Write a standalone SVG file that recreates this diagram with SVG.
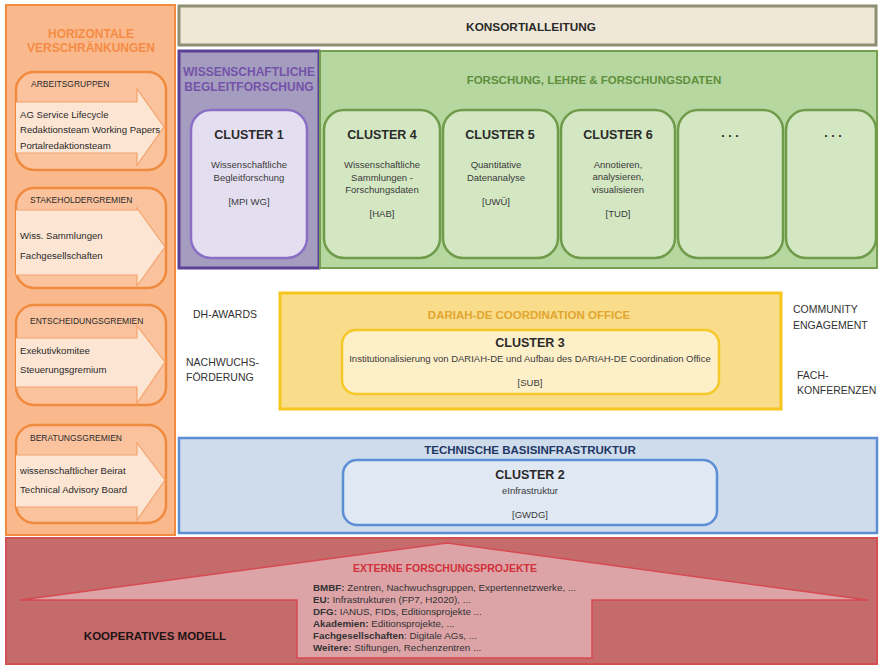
<svg xmlns="http://www.w3.org/2000/svg" width="880" height="665" viewBox="0 0 880 665">
<style>
text{font-family:"Liberation Sans",Arial,sans-serif;fill:#2a2a2a}
.b{font-weight:bold}
.hz{font-size:12px;font-weight:bold;fill:#f58c46}
.gh{font-size:8.5px}
.gt{font-size:9.6px}
.ab{fill:#fac39e;stroke:#f08a3e;stroke-width:2.5}
.ar{fill:#fde5d3;stroke:#f4a46e;stroke-width:1.2}
.cl{font-size:12.5px;font-weight:bold}
.ct{font-size:9.5px;fill:#3a3a3a}
.gc{fill:#d3e7c3;stroke:#6f9b4a;stroke-width:2.5}
.side{font-size:10.5px;fill:#333}
.sec{font-size:11.5px;font-weight:bold}
.lst{font-size:9.8px;fill:#333}
</style>
<rect width="880" height="665" fill="#ffffff"/>

<g id="horizontale">
<rect x="6" y="5" width="169" height="530" fill="#f9b98c" stroke="#f28b3e" stroke-width="2"/>
<text class="hz" x="91" y="38" text-anchor="middle">HORIZONTALE</text>
<text class="hz" x="91" y="52" text-anchor="middle">VERSCHRÄNKUNGEN</text>
</g>

<g id="arbeitsgruppen">
<rect class="ab" x="16" y="72" width="150" height="98" rx="18"/>
<path class="ar" d="M16,102 H137 V89 L164,127 L137,165 V153 H16"/>
<text class="gh" x="31" y="87">ARBEITSGRUPPEN</text>
<text class="gt" x="20" y="118">AG Service Lifecycle</text>
<text class="gt" x="20" y="133">Redaktionsteam Working Papers</text>
<text class="gt" x="20" y="149">Portalredaktionsteam</text>
</g>

<g id="stakeholdergremien">
<rect class="ab" x="16" y="188" width="150" height="100" rx="18"/>
<path class="ar" d="M16,210 H137 V208 L165,247 L137,286 V275 H16"/>
<text class="gh" x="30" y="203">STAKEHOLDERGREMIEN</text>
<text class="gt" x="20" y="239">Wiss. Sammlungen</text>
<text class="gt" x="20" y="259">Fachgesellschaften</text>
</g>

<g id="entscheidungsgremien">
<rect class="ab" x="16" y="305" width="150" height="100" rx="18"/>
<path class="ar" d="M16,338 H137 V326 L165,362 L137,403 V387 H16"/>
<text class="gh" x="30" y="324">ENTSCHEIDUNGSGREMIEN</text>
<text class="gt" x="20" y="354">Exekutivkomitee</text>
<text class="gt" x="20" y="373">Steuerungsgremium</text>
</g>

<g id="beratungsgremien">
<rect class="ab" x="16" y="425" width="150" height="98" rx="18"/>
<path class="ar" d="M16,455 H137 V443 L165,480 L137,520 V507 H16"/>
<text class="gh" x="30" y="441">BERATUNGSGREMIEN</text>
<text class="gt" x="20" y="474">wissenschaftlicher Beirat</text>
<text class="gt" x="20" y="493">Technical Advisory Board</text>
</g>

<g id="konsortialleitung">
<rect x="179" y="6" width="697" height="39" fill="#efe8d8" stroke="#8e8e72" stroke-width="3"/>
<text class="b" x="531" y="31" text-anchor="middle" font-size="11.8">KONSORTIALLEITUNG</text>
</g>

<g id="begleitforschung">
<rect x="179" y="51" width="140" height="217" fill="#a49dc0" stroke="#5b4196" stroke-width="3"/>
<text class="b" x="249" y="76" text-anchor="middle" font-size="12" style="fill:#7553a8">WISSENSCHAFTLICHE</text>
<text class="b" x="249" y="91" text-anchor="middle" font-size="12" style="fill:#7553a8">BEGLEITFORSCHUNG</text>
</g>

<g id="cluster1">
<rect x="191" y="110" width="116" height="148" rx="20" fill="#e4dff0" stroke="#8a6fc4" stroke-width="2.5"/>
<text class="cl" x="249" y="139" text-anchor="middle">CLUSTER 1</text>
<text class="ct" x="249" y="168" text-anchor="middle">Wissenschaftliche</text>
<text class="ct" x="249" y="181" text-anchor="middle">Begleitforschung</text>
<text class="ct" x="249" y="205" text-anchor="middle">[MPI WG]</text>
</g>

<g id="forschung">
<rect x="320" y="51" width="557" height="217" fill="#b7d7a0" stroke="#74a04f" stroke-width="2"/>
<text class="sec" x="594" y="84" text-anchor="middle" style="fill:#5e8f3c">FORSCHUNG, LEHRE &amp; FORSCHUNGSDATEN</text>
</g>

<g id="cluster4">
<rect class="gc" x="324" y="110" width="116" height="148" rx="20"/>
<text class="cl" x="382" y="139" text-anchor="middle">CLUSTER 4</text>
<text class="ct" x="382" y="168" text-anchor="middle">Wissenschaftliche</text>
<text class="ct" x="382" y="181" text-anchor="middle">Sammlungen -</text>
<text class="ct" x="382" y="193" text-anchor="middle">Forschungsdaten</text>
<text class="ct" x="382" y="217" text-anchor="middle">[HAB]</text>
</g>

<g id="cluster5">
<rect class="gc" x="443" y="110" width="115" height="148" rx="20"/>
<text class="cl" x="500" y="139" text-anchor="middle">CLUSTER 5</text>
<text class="ct" x="496" y="168" text-anchor="middle">Quantitative</text>
<text class="ct" x="496" y="181" text-anchor="middle">Datenanalyse</text>
<text class="ct" x="496" y="205" text-anchor="middle">[UWÜ]</text>
</g>

<g id="cluster6">
<rect class="gc" x="561" y="110" width="114" height="148" rx="20"/>
<text class="cl" x="618" y="139" text-anchor="middle">CLUSTER 6</text>
<text class="ct" x="618" y="168" text-anchor="middle">Annotieren,</text>
<text class="ct" x="618" y="180" text-anchor="middle">analysieren,</text>
<text class="ct" x="618" y="193" text-anchor="middle">visualisieren</text>
<text class="ct" x="618" y="217" text-anchor="middle">[TUD]</text>
</g>

<g id="cluster-more1">
<rect class="gc" x="678" y="110" width="105" height="148" rx="20"/>
<text class="cl" x="730" y="137" text-anchor="middle">. . .</text>
</g>

<g id="cluster-more2">
<rect class="gc" x="786" y="110" width="90" height="148" rx="20"/>
<text class="cl" x="833" y="137" text-anchor="middle">. . .</text>
</g>

<g id="side-left">
<text class="side" x="225" y="318" text-anchor="middle">DH-AWARDS</text>
<text class="side" x="186" y="366">NACHWUCHS-</text>
<text class="side" x="186" y="381">FÖRDERUNG</text>
</g>

<g id="coordination">
<rect x="280" y="293" width="501" height="116" fill="#f9dd8a" stroke="#f6c51e" stroke-width="3"/>
<text class="sec" x="529" y="319" text-anchor="middle" style="fill:#e2a52f">DARIAH-DE COORDINATION OFFICE</text>
</g>

<g id="cluster3">
<rect x="342" y="330" width="377" height="64" rx="14" fill="#fdf0c9" stroke="#f6c828" stroke-width="2.5"/>
<text class="cl" x="530" y="347" text-anchor="middle">CLUSTER 3</text>
<text class="ct" x="530" y="362" text-anchor="middle">Institutionalisierung von DARIAH-DE und Aufbau des DARIAH-DE Coordination Office</text>
<text class="ct" x="530" y="386" text-anchor="middle">[SUB]</text>
</g>

<g id="side-right">
<text class="side" x="793" y="313">COMMUNITY</text>
<text class="side" x="793" y="329">ENGAGEMENT</text>
<text class="side" x="797" y="379">FACH-</text>
<text class="side" x="797" y="394">KONFERENZEN</text>
</g>

<g id="basisinfrastruktur">
<rect x="179" y="438" width="698" height="95" fill="#cfdcec" stroke="#5b8ed3" stroke-width="2.5"/>
<text class="sec" x="530" y="454" text-anchor="middle" style="fill:#1f3864">TECHNISCHE BASISINFRASTRUKTUR</text>
</g>

<g id="cluster2">
<rect x="343" y="460" width="374" height="65" rx="14" fill="#e0e8f4" stroke="#5b8ed3" stroke-width="2.5"/>
<text class="cl" x="530" y="479" text-anchor="middle">CLUSTER 2</text>
<text class="ct" x="530" y="494" text-anchor="middle">eInfrastruktur</text>
<text class="ct" x="530" y="518" text-anchor="middle">[GWDG]</text>
</g>

<g id="kooperatives-modell">
<rect x="6" y="538" width="871" height="126" fill="#c56b6c" stroke="#d25052" stroke-width="2"/>
<path d="M20,600 L447,543 L868,600 H592 V658 H297 V600 Z" fill="#dca4a7" stroke="#d64a52" stroke-width="1.5"/>
<text class="b" x="155" y="640" text-anchor="middle" font-size="11.5" style="fill:#1e1414">KOOPERATIVES MODELL</text>
</g>

<g id="externe">
<text class="b" x="445" y="572" text-anchor="middle" font-size="10.5" style="fill:#d1313a">EXTERNE FORSCHUNGSPROJEKTE</text>
<text class="lst" x="313" y="591"><tspan class="b">BMBF:</tspan> Zentren, Nachwuchsgruppen, Expertennetzwerke, ...</text>
<text class="lst" x="313" y="603"><tspan class="b">EU:</tspan> Infrastrukturen (FP7, H2020),  ...</text>
<text class="lst" x="313" y="615"><tspan class="b">DFG:</tspan> IANUS, FIDs, Editionsprojekte ...</text>
<text class="lst" x="313" y="627"><tspan class="b">Akademien:</tspan> Editionsprojekte, ...</text>
<text class="lst" x="313" y="639"><tspan class="b">Fachgesellschaften</tspan>: Digitale AGs, ...</text>
<text class="lst" x="313" y="651"><tspan class="b">Weitere:</tspan> Stiftungen, Rechenzentren ...</text>
</g>
</svg>
